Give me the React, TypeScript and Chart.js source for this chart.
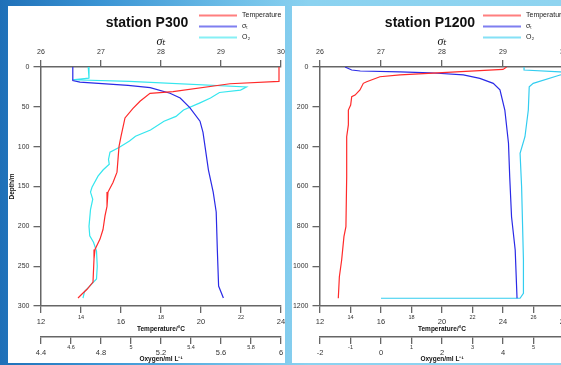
import React, { useEffect, useRef } from 'react';
import { Chart, registerables } from 'chart.js';

Chart.register(...registerables);
Chart.defaults.font.family = 'Arial, "Liberation Sans", sans-serif';

// ---------- Station P300 ----------
const p300Title = 'station P300';
const p300TempDepth = [0, 18, 21, 31, 33, 43, 52, 64, 87, 100, 116, 132, 145, 157, 175, 187, 204, 216, 229, 241, 270, 279, 285, 290];
const p300Temp = [23.9, 23.9, 21.45, 18.6, 17.45, 16.95, 16.6, 16.2, 16.0, 15.9, 15.85, 15.8, 15.6, 15.35, 15.3, 15.2, 15.1, 14.95, 14.7, 14.65, 14.6, 14.3, 14.05, 13.85];
const p300SigmaDepth = [0, 17, 19, 23, 26, 33, 39, 51, 68, 82, 129, 157, 182, 232, 275, 290];
const p300Sigma = [26.53, 26.53, 26.65, 27.45, 27.82, 28.15, 28.32, 28.48, 28.65, 28.7, 28.79, 28.87, 28.92, 28.94, 28.96, 29.04];
const p300OxyDepth = [0, 14, 16, 18, 25, 29, 32, 39, 45, 54, 62, 68, 79, 87, 93, 101, 107, 116, 122, 129, 137, 151, 157, 166, 179, 200, 212, 220, 231, 250, 266, 275, 282, 290];
const p300Oxy = [4.715, 4.72, 4.61, 4.99, 5.77, 5.73, 5.59, 5.53, 5.46, 5.35, 5.3, 5.22, 5.13, 5.03, 4.99, 4.92, 4.86, 4.85, 4.855, 4.815, 4.78, 4.74, 4.73, 4.745, 4.73, 4.72, 4.725, 4.75, 4.77, 4.775, 4.77, 4.725, 4.69, 4.68];
const p300DepthTicks = [0, 50, 100, 150, 200, 250, 300];
const p300SigmaTicks = [26, 27, 28, 29, 30];
const p300TempTicks = [12, 14, 16, 18, 20, 22, 24];
const p300OxyTicks = [4.4, 4.6, 4.8, 5, 5.2, 5.4, 5.6, 5.8, 6];

// ---------- Station P1200 ----------
const p1200Title = 'station P1200';
const p1200TempDepth = [0, 12, 40, 49, 74, 82, 115, 141, 149, 191, 216, 291, 350, 551, 802, 852, 969, 1053, 1161];
const p1200Temp = [24.24, 24.0, 17.25, 15.93, 15.06, 14.84, 14.62, 14.3, 14.08, 14.01, 13.86, 13.86, 13.75, 13.75, 13.7, 13.57, 13.42, 13.27, 13.2];
const p1200SigmaDepth = [0, 15, 20, 24, 29, 40, 57, 82, 115, 216, 383, 551, 752, 919, 1161];
const p1200Sigma = [26.41, 26.52, 26.66, 27.31, 27.8, 28.35, 28.62, 28.84, 28.95, 29.03, 29.09, 29.11, 29.14, 29.2, 29.23];
const p1200OxyDepth = [0, 15, 24, 30, 40, 82, 99, 216, 350, 433, 601, 969, 1136, 1161, 1161];
const p1200Oxy = [4.69, 4.69, 5.87, 6.3, 5.87, 4.99, 4.86, 4.83, 4.72, 4.56, 4.61, 4.67, 4.67, 4.56, 0.0];
const p1200DepthTicks = [0, 200, 400, 600, 800, 1000, 1200];
const p1200SigmaTicks = [26, 27, 28, 29, 30];
const p1200TempTicks = [12, 14, 16, 18, 20, 22, 24, 26, 28];
const p1200OxyTicks = [-2, -1, 0, 1, 2, 3, 4, 5, 6];

const seriesLabels = ['Temperature', 'σₜ', 'O₂'];

const zip = (vals: number[], depths: number[]) => vals.map((v, i) => ({ x: v, y: depths[i] }));
const fmt = (v: number) => String(Math.round(v * 100) / 100);

const AXIS_COLOR = '#666';

function xScale(pos: string, weight: number, ticksArr: number[], height: number, opts: any) {
  return {
    type: 'linear',
    position: pos,
    weight,
    min: ticksArr[0],
    max: ticksArr[ticksArr.length - 1],
    afterBuildTicks: (s: any) => {
      s.ticks = ticksArr.map((v) => ({ value: v }));
    },
    afterFit: (s: any) => {
      s.height = height;
      s.paddingLeft = 0;
      s.paddingRight = 0;
    },
    grid: { drawOnChartArea: false, drawTicks: true, tickLength: 7, color: AXIS_COLOR, lineWidth: 1.3 },
    border: { display: true, color: AXIS_COLOR, width: 1.5 },
    ticks: {
      autoSkip: false,
      maxRotation: 0,
      minRotation: 0,
      color: '#333',
      padding: opts.padding,
      font: opts.font,
      callback: (v: number) => fmt(v),
    },
    title: opts.title,
  };
}

function buildConfig(p: any) {
  const titleLegend = {
    id: 'titleLegend',
    afterDraw(chart: any) {
      const ctx = chart.ctx;
      ctx.save();
      ctx.font = 'bold 14px Arial, "Liberation Sans", sans-serif';
      ctx.fillStyle = '#111';
      ctx.textAlign = 'center';
      ctx.textBaseline = 'middle';
      ctx.fillText(p.title, p.titleX, 17);
      chart.data.datasets.forEach((ds: any, i: number) => {
        const y = 9.5 + i * 11;
        ctx.globalAlpha = 0.6;
        ctx.strokeStyle = ds.borderColor;
        ctx.lineWidth = 2;
        ctx.beginPath();
        ctx.moveTo(191, y);
        ctx.lineTo(229, y);
        ctx.stroke();
        ctx.globalAlpha = 1;
        ctx.fillStyle = '#222';
        ctx.font = '7px Arial, "Liberation Sans", sans-serif';
        ctx.textAlign = 'left';
        ctx.fillText(ds.label, 234, y);
      });
      ctx.restore();
    },
  };

  const line = { showLine: true, pointRadius: 0, borderWidth: 1.2, tension: 0, yAxisID: 'y' };

  const majorMinor = (majorLH: number, minorLH: number) => (c: any) =>
    c.index % 2 === 0 ? { size: 7.5, lineHeight: majorLH } : { size: 5.5, lineHeight: minorLH };

  return {
    type: 'scatter',
    data: {
      datasets: [
        { ...line, label: seriesLabels[0], data: zip(p.temp, p.tempDepth), xAxisID: 'xT', borderColor: '#ff2a2a' },
        { ...line, label: seriesLabels[1], data: zip(p.sigma, p.sigmaDepth), xAxisID: 'xS', borderColor: '#2a2ae6' },
        { ...line, label: seriesLabels[2], data: zip(p.oxy, p.oxyDepth), xAxisID: 'xO', borderColor: p.oxyColor },
      ],
    },
    options: {
      responsive: false,
      animation: false,
      devicePixelRatio: 1,
      layout: { padding: { top: 29, left: 0, right: p.padRight, bottom: 0 } },
      plugins: { legend: { display: false }, tooltip: { enabled: false }, title: { display: false } },
      scales: {
        y: {
          type: 'linear',
          position: 'left',
          reverse: true,
          min: p.depthTicks[0],
          max: p.depthTicks[p.depthTicks.length - 1],
          afterBuildTicks: (s: any) => {
            s.ticks = p.depthTicks.map((v: number) => ({ value: v }));
          },
          afterFit: (s: any) => {
            s.width = p.yWidth;
            s.paddingTop = 0;
            s.paddingBottom = 0;
          },
          grid: { drawOnChartArea: false, drawTicks: true, tickLength: 7.5, color: AXIS_COLOR, lineWidth: 1.3 },
          border: { display: true, color: AXIS_COLOR, width: 1.5 },
          ticks: { autoSkip: false, color: '#333', padding: 4, font: { size: 7 }, callback: (v: number) => fmt(v) },
          title: {
            display: p.showDepthTitle,
            text: 'Depth/m',
            color: '#111',
            font: { size: 6.5, weight: 'bold' },
            padding: { top: 0, bottom: 0 },
          },
        },
        xS: xScale('top', 0, p.sigmaTicks, 32, {
          padding: 4,
          font: { size: 7 },
          title: {
            display: true,
            text: 'σₜ',
            color: '#111',
            font: { size: 12, style: 'italic', family: '"Liberation Serif", "DejaVu Serif", serif' },
            padding: { top: 0, bottom: 0 },
          },
        }),
        xT: xScale('bottom', 0, p.tempTicks, 31, {
          padding: 0,
          font: majorMinor(2.5, 1.7),
          title: {
            display: true,
            text: 'Temperature/°C',
            color: '#111',
            font: { size: 6.5, weight: 'bold' },
            padding: { top: 0, bottom: 4 },
          },
        }),
        xO: xScale('bottom', 1, p.oxyTicks, 26, {
          padding: 0,
          font: majorMinor(2.32, 1.35),
          title: {
            display: true,
            text: 'Oxygen/ml L⁻¹',
            color: '#111',
            font: { size: 6.5, weight: 'bold' },
            padding: { top: 0, bottom: 0 },
          },
        }),
      },
    },
    plugins: [titleLegend],
  } as any;
}

const p300 = {
  title: p300Title,
  titleX: 139,
  temp: p300Temp,
  tempDepth: p300TempDepth,
  sigma: p300Sigma,
  sigmaDepth: p300SigmaDepth,
  oxy: p300Oxy,
  oxyDepth: p300OxyDepth,
  oxyColor: '#35e6ee',
  depthTicks: p300DepthTicks,
  sigmaTicks: p300SigmaTicks,
  tempTicks: p300TempTicks,
  oxyTicks: p300OxyTicks,
  yWidth: 33,
  padRight: 4,
  showDepthTitle: true,
};

const p1200 = {
  title: p1200Title,
  titleX: 138,
  temp: p1200Temp,
  tempDepth: p1200TempDepth,
  sigma: p1200Sigma,
  sigmaDepth: p1200SigmaDepth,
  oxy: p1200Oxy,
  oxyDepth: p1200OxyDepth,
  oxyColor: '#33cdf0',
  depthTicks: p1200DepthTicks,
  sigmaTicks: p1200SigmaTicks,
  tempTicks: p1200TempTicks,
  oxyTicks: p1200OxyTicks,
  yWidth: 28,
  padRight: 8,
  showDepthTitle: false,
};

export default function App() {
  const ref1 = useRef<HTMLCanvasElement>(null);
  const ref2 = useRef<HTMLCanvasElement>(null);

  useEffect(() => {
    const c1 = new Chart(ref1.current as HTMLCanvasElement, buildConfig(p300));
    const c2 = new Chart(ref2.current as HTMLCanvasElement, buildConfig(p1200));
    return () => {
      c1.destroy();
      c2.destroy();
    };
  }, []);

  return (
    <div
      style={{
        position: 'fixed',
        left: 0,
        top: 0,
        width: 561,
        height: 365,
        overflow: 'hidden',
        background:
          'linear-gradient(90deg, #1f70b8 0%, #3a94d4 18%, #6fbfe8 42%, #8bd2f0 55%, #8fd4f0 100%)',
      }}
    >
      <div style={{ position: 'absolute', left: 8, top: 6, width: 277, height: 357, background: '#fff' }}>
        <canvas ref={ref1} width={277} height={357} style={{ display: 'block' }} />
      </div>
      <div style={{ position: 'absolute', left: 292, top: 6, width: 280, height: 357, background: '#fff' }}>
        <canvas ref={ref2} width={280} height={357} style={{ display: 'block' }} />
      </div>
    </div>
  );
}
